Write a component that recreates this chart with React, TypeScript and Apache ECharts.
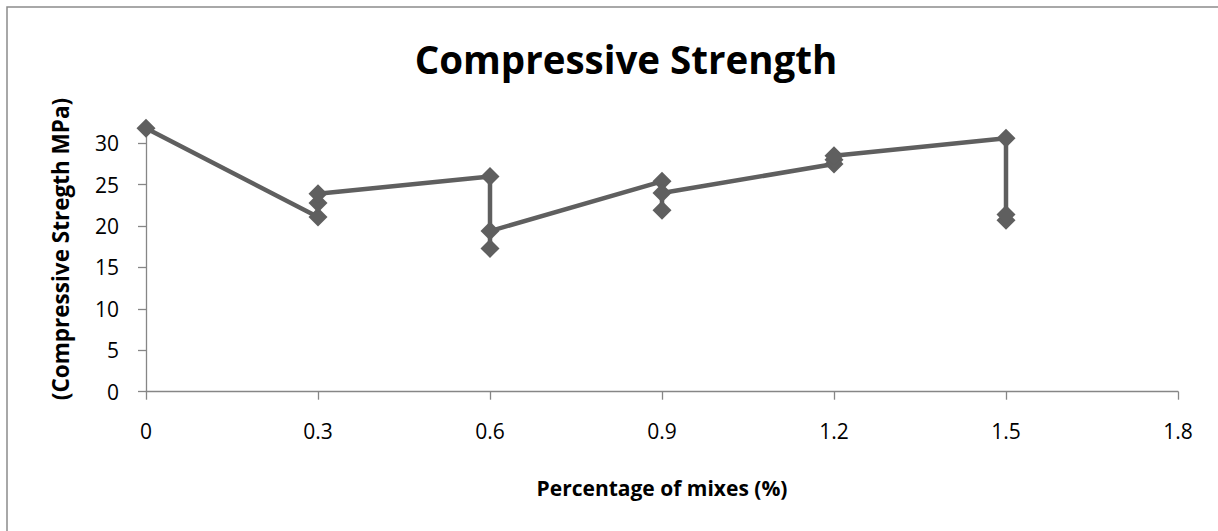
import React, { useEffect, useRef } from "react";
import * as echarts from "echarts";

const mixPercent = [0, 0.3, 0.3, 0.3, 0.6, 0.6, 0.6, 0.9, 0.9, 0.9, 1.2, 1.2, 1.2, 1.5, 1.5, 1.5];
const strengthMPa = [31.8, 21.1, 22.8, 23.9, 26.0, 17.3, 19.4, 25.4, 21.9, 24.0, 27.5, 28.0, 28.5, 30.6, 20.7, 21.4];
const titleText = "Compressive Strength";
const xAxisTitle = "Percentage of mixes (%)";
const yAxisTitle = "(Compressive Stregth MPa)";

const FONT = "'Open Sans', 'Noto Sans', sans-serif";

export default function App() {
  const ref = useRef<HTMLDivElement>(null);
  useEffect(() => {
    if (!ref.current) return;
    const chart = echarts.init(ref.current, null, { renderer: "svg" });
    const data = mixPercent.map((x, i) => [x, strengthMPa[i]]);
    chart.setOption({
      animation: false,
      backgroundColor: "#ffffff",
      title: {
        text: titleText,
        left: 621,
        top: 34,
        textAlign: "center",
        textStyle: { fontFamily: FONT, fontSize: 38.5, fontWeight: "bold", color: "#000" },
      },
      graphic: [
        {
          type: "rect",
          shape: { x: 7, y: 7, width: 1240, height: 600 },
          style: { fill: "none", stroke: "#8c8c8c", lineWidth: 1.5 },
          silent: true,
        },
        {
          type: "text",
          x: 60,
          y: 249,
          rotation: Math.PI / 2,
          style: {
            text: yAxisTitle,
            fontFamily: FONT,
            fontSize: 22.5,
            fontWeight: "bold",
            fill: "#000",
            align: "center",
            verticalAlign: "middle",
          },
        },
      ],
      grid: { left: 146, right: 40, top: 126.7, bottom: 139.3, containLabel: false },
      xAxis: {
        type: "value",
        min: 0,
        max: 1.8,
        interval: 0.3,
        name: xAxisTitle,
        nameLocation: "middle",
        nameGap: 86,
        nameTextStyle: { fontFamily: FONT, fontSize: 21, fontWeight: "bold", color: "#000" },
        axisLine: { show: true, lineStyle: { color: "#868686", width: 1.3 } },
        axisTick: { show: true, length: 8, lineStyle: { color: "#868686", width: 1.3 } },
        axisLabel: { fontFamily: FONT, fontSize: 21, color: "#000", margin: 29 },
        splitLine: { show: false },
      },
      yAxis: {
        type: "value",
        min: 0,
        max: 32,
        interval: 5,
        axisLine: { show: true, lineStyle: { color: "#868686", width: 1.3 } },
        axisTick: { show: true, length: 8, lineStyle: { color: "#868686", width: 1.3 } },
        axisLabel: {
          fontFamily: FONT,
          fontSize: 21,
          color: "#000",
          margin: 27,
          showMaxLabel: false,
        },
        splitLine: { show: false },
      },
      series: [
        {
          type: "line",
          data,
          symbol: "diamond",
          symbolSize: 19,
          clip: false,
          lineStyle: { color: "#5f5f5f", width: 4.5 },
          itemStyle: { color: "#5f5f5f" },
        },
      ],
    });
    return () => chart.dispose();
  }, []);
  return (
    <div
      ref={ref}
      style={{ position: "fixed", left: 0, top: 0, width: 1218, height: 531 }}
    />
  );
}
